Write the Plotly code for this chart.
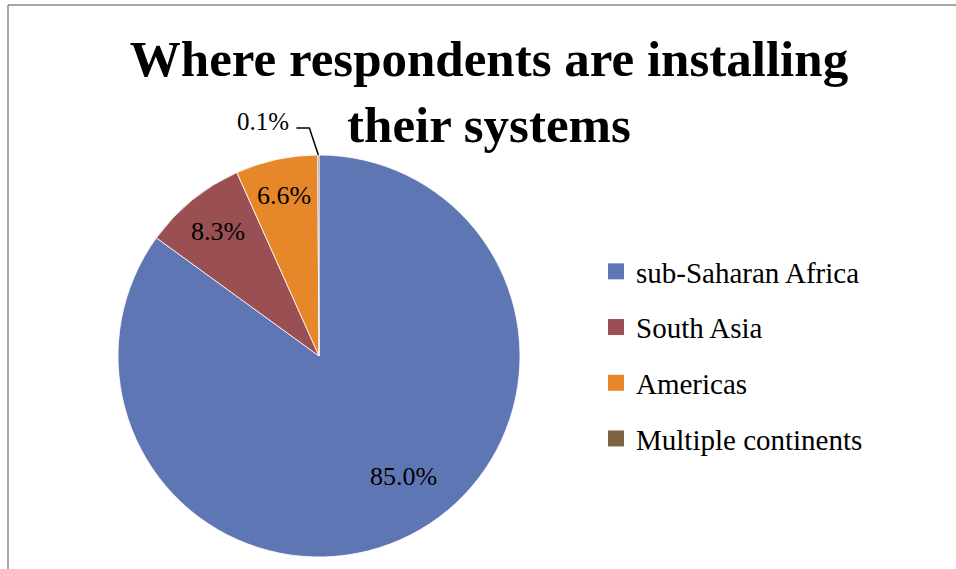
import math
import plotly.graph_objects as go

# ---- data ----
regions = ["sub-Saharan Africa", "South Asia", "Americas", "Multiple continents"]
shares = [85.0, 8.3, 6.6, 0.1]
colors = ["#5F76B4", "#9A5052", "#E6872A", "#7E6445"]
title_lines = ["Where respondents are installing", "their systems"]

# ---- geometry (pixels) ----
W, H = 956, 569
cx, cy, R = 319, 356, 201
label_frac = [0.73, 0.80, 0.815, None]     # radial position of inside labels
label_shift = [-8.0, 0.0, 0.0, 0.0]        # angular nudge (deg) for best-fit look
SERIF = "Liberation Serif"


def to_paper(x, y):
    return x / W, 1 - y / H


fig = go.Figure()
fig.add_trace(go.Pie(
    labels=regions, values=shares, sort=False, direction="clockwise", rotation=0,
    marker=dict(colors=colors, line=dict(color="#ffffff", width=0.8)),
    textinfo="none", hoverinfo="label+percent", showlegend=False,
    domain=dict(x=[(cx - R) / W, (cx + R) / W], y=[1 - (cy + R) / H, 1 - (cy - R) / H]),
))

# legend entries (one per category so spacing can match)
for name, col in zip(regions, colors):
    fig.add_trace(go.Scatter(
        x=[None], y=[None], mode="markers", name=name, legendgroup=name,
        marker=dict(symbol="square", size=16, color=col), hoverinfo="skip",
    ))

annotations = []
shapes = []
total = sum(shares)
cum = 0.0
for i, v in enumerate(shares):
    mid = (cum + v / 2) / total * 360.0
    cum += v
    txt = f"{v:.1f}%"
    if label_frac[i] is not None:
        a = math.radians(mid + label_shift[i])
        x = cx + label_frac[i] * R * math.sin(a)
        y = cy - label_frac[i] * R * math.cos(a)
        px, py = to_paper(x, y)
        annotations.append(dict(x=px, y=py, xref="paper", yref="paper", text=txt,
                                showarrow=False, xanchor="center", yanchor="middle",
                                font=dict(family=SERIF, size=26, color="#000000")))
    else:
        a = math.radians(mid)
        ex = cx + R * math.sin(a)
        ey = cy - R * math.cos(a)
        p0 = to_paper(ex, ey)
        p1 = to_paper(ex - 9, ey - 27)
        p2 = to_paper(ex - 22, ey - 27)
        shapes.append(dict(type="path", xref="paper", yref="paper",
                           path=f"M {p0[0]},{p0[1]} L {p1[0]},{p1[1]} L {p2[0]},{p2[1]}",
                           line=dict(color="#000000", width=1.5)))
        lx, ly = to_paper(ex - 27, ey - 34)
        annotations.append(dict(x=lx, y=ly, xref="paper", yref="paper", text=txt,
                                showarrow=False, xanchor="right", yanchor="middle",
                                font=dict(family=SERIF, size=25, color="#000000")))

# chart frame (left and top edges visible)
f0 = to_paper(8, 5)
shapes.append(dict(type="line", xref="paper", yref="paper", x0=f0[0], y0=f0[1], x1=f0[0], y1=-0.05,
                   line=dict(color="#8a8a8a", width=1.5)))
shapes.append(dict(type="line", xref="paper", yref="paper", x0=f0[0], y0=f0[1], x1=1.05, y1=f0[1],
                   line=dict(color="#8a8a8a", width=1.5)))

fig.update_layout(
    width=W, height=H,
    margin=dict(l=0, r=0, t=0, b=0),
    paper_bgcolor="#ffffff", plot_bgcolor="#ffffff",
    title=dict(text="<b>" + "<br>".join(title_lines) + "</b>",
               x=489 / W, xanchor="center", xref="paper",
               y=1 - 76 / H, yanchor="top", yref="paper",
               font=dict(family=SERIF, size=51, color="#000000")),
    xaxis=dict(visible=False), yaxis=dict(visible=False),
    legend=dict(x=596 / W, xanchor="left", y=1 - 246 / H, yanchor="top",
                traceorder="grouped", tracegroupgap=15,
                font=dict(family=SERIF, size=29, color="#000000"),
                bgcolor="rgba(0,0,0,0)", borderwidth=0),
    annotations=annotations,
    shapes=shapes,
    showlegend=True,
)

fig.write_html("out.html")
